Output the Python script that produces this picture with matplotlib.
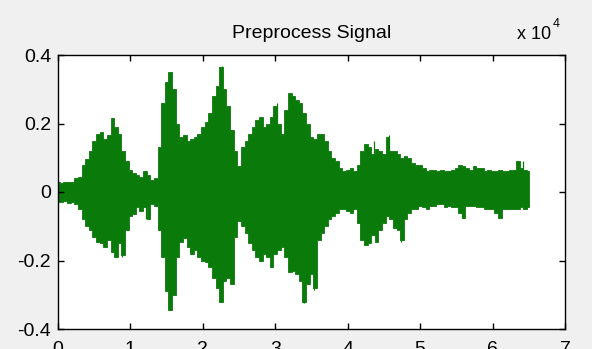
import matplotlib
matplotlib.use("Agg")
import matplotlib.pyplot as plt
import numpy as np

# envelope of the waveform, sampled every 0.05 (x 10^4 samples)
x_start, x_step = 0.0, 0.05
upper = [
    0.030, 0.025, 0.030, 0.028, 0.030, 0.040, 0.045, 0.080, 0.095, 0.120,
    0.150, 0.170, 0.175, 0.155, 0.165, 0.215, 0.190, 0.170, 0.120, 0.090,
    0.065, 0.055, 0.050, 0.045, 0.060, 0.050, 0.035, 0.040, 0.130, 0.260,
    0.320, 0.350, 0.300, 0.200, 0.160, 0.165, 0.150, 0.155, 0.160, 0.170,
    0.190, 0.205, 0.230, 0.280, 0.310, 0.365, 0.300, 0.250, 0.180, 0.120,
    0.075, 0.130, 0.150, 0.170, 0.190, 0.210, 0.220, 0.190, 0.200, 0.220,
    0.250, 0.200, 0.170, 0.240, 0.290, 0.280, 0.270, 0.260, 0.230, 0.200,
    0.160, 0.155, 0.170, 0.170, 0.150, 0.120, 0.100, 0.090, 0.070, 0.060,
    0.065, 0.070, 0.060, 0.080, 0.120, 0.140, 0.130, 0.110, 0.125, 0.120,
    0.110, 0.160, 0.120, 0.120, 0.110, 0.100, 0.105, 0.100, 0.085, 0.080,
    0.080, 0.070, 0.060, 0.065, 0.065, 0.060, 0.065, 0.060, 0.060, 0.065,
    0.070, 0.080, 0.075, 0.070, 0.065, 0.075, 0.070, 0.070, 0.060, 0.065,
    0.060, 0.060, 0.065, 0.060, 0.060, 0.065, 0.065, 0.090, 0.070, 0.065,
    0.060,
]
lower = [
    -0.030, -0.030, -0.025, -0.032, -0.030, -0.035, -0.050, -0.080, -0.100, -0.110,
    -0.130, -0.145, -0.150, -0.160, -0.140, -0.175, -0.190, -0.150, -0.185, -0.110,
    -0.070, -0.065, -0.045, -0.055, -0.045, -0.080, -0.035, -0.040, -0.110, -0.190,
    -0.290, -0.345, -0.300, -0.190, -0.145, -0.135, -0.160, -0.180, -0.170, -0.190,
    -0.200, -0.205, -0.220, -0.250, -0.280, -0.320, -0.260, -0.250, -0.270, -0.130,
    -0.085, -0.100, -0.120, -0.150, -0.170, -0.190, -0.200, -0.180, -0.190, -0.220,
    -0.180, -0.170, -0.160, -0.190, -0.235, -0.230, -0.240, -0.260, -0.320, -0.270,
    -0.240, -0.280, -0.140, -0.120, -0.100, -0.080, -0.070, -0.060, -0.050, -0.050,
    -0.055, -0.060, -0.050, -0.090, -0.140, -0.155, -0.150, -0.125, -0.145, -0.110,
    -0.090, -0.070, -0.080, -0.105, -0.110, -0.140, -0.080, -0.060, -0.050, -0.050,
    -0.040, -0.045, -0.050, -0.040, -0.040, -0.035, -0.035, -0.045, -0.040, -0.045,
    -0.045, -0.060, -0.075, -0.040, -0.040, -0.040, -0.045, -0.045, -0.050, -0.050,
    -0.050, -0.060, -0.075, -0.050, -0.050, -0.050, -0.050, -0.050, -0.045, -0.050,
    -0.045,
]

# isolated thin spikes (position x 10^4, amplitude)
spike_x = [0.88, 1.22, 1.53, 2.26, 3.02, 3.39, 3.53, 4.36, 4.57, 4.73, 5.58, 6.12, 6.42]
spike_amp = [-0.19, -0.08, -0.345, 0.368, 0.26, -0.325, -0.285, 0.15, 0.165, -0.145, -0.077, -0.077, 0.09]

yticks = [-0.4, -0.2, 0, 0.2, 0.4]
ytick_labels = ["-0.4", "-0.2", "0", "0.2", "0.4"]
xticks = [0, 1, 2, 3, 4, 5, 6, 7]

plt.rcParams["font.family"] = ["Liberation Sans", "DejaVu Sans"]

green = "#0a7a0a"
bg = "#f0f0f0"

fig = plt.figure(figsize=(5.92, 3.49), dpi=100, facecolor=bg)
ax = fig.add_axes([58 / 592, 20 / 349, 507 / 592, 274 / 349])
ax.set_facecolor("white")

x = x_start + x_step * np.arange(len(upper))
ax.fill_between(x, lower, upper, step="mid", color=green, linewidth=0.6, edgecolor=green)
ax.vlines(spike_x, 0, spike_amp, color=green, linewidth=0.9)

ax.set_xlim(0, 7)
ax.set_ylim(-0.4, 0.4)
ax.set_xticks(xticks)
ax.set_yticks(yticks)
ax.set_yticklabels(ytick_labels)
ax.tick_params(direction="in", length=4, width=1, top=True, right=True,
               labelsize=14, colors="black")
ax.tick_params(axis="x", pad=9)
ax.tick_params(axis="y", pad=5)
for s in ax.spines.values():
    s.set_linewidth(1.0)

ax.set_title("Preprocess Signal", fontsize=14, pad=12)
ax.text(0.905, 1.045, "x 10", transform=ax.transAxes, fontsize=13, ha="left", va="bottom")
ax.text(0.975, 1.09, "4", transform=ax.transAxes, fontsize=9, ha="left", va="bottom")

fig.savefig("out.png", dpi=100, facecolor=bg)
